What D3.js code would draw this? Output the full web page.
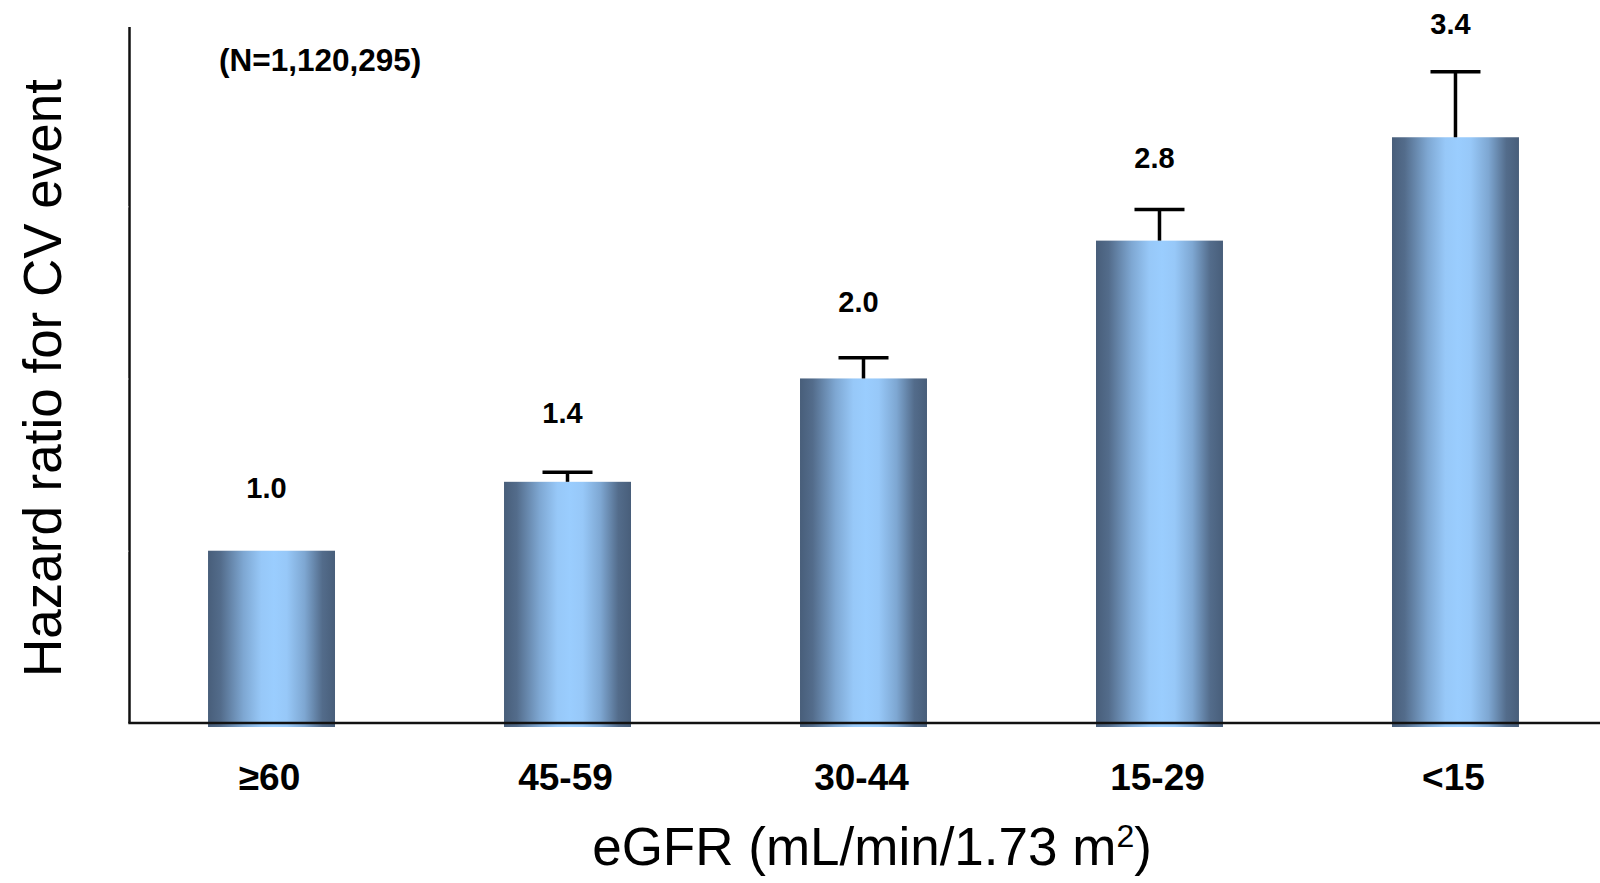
<!DOCTYPE html>
<html>
<head>
<meta charset="utf-8">
<script src="https://cdn.jsdelivr.net/npm/d3@7/dist/d3.min.js"></script>
<style>
  html, body { margin: 0; padding: 0; background: #fff; }
  svg { display: block; }
  text { font-family: "Liberation Sans", Arial, sans-serif; fill: #000; }
</style>
</head>
<body>
<svg id="chart" width="1600" height="883"></svg>
<script>
const categories = ["\u226560", "45-59", "30-44", "15-29", "<15"];
const hazardRatios = [1.0, 1.4, 2.0, 2.8, 3.4];
const upperCI = [1.0, 1.455, 2.12, 2.98, 3.78];
const valueLabels = ["1.0", "1.4", "2.0", "2.8", "3.4"];
const yTicks = [1, 2, 3];
const nLabel = "(N=1,120,295)";
const yTitle = "Hazard ratio for CV event";

const data = categories.map((c, i) => ({ cat: c, v: hazardRatios[i], up: upperCI[i], lab: valueLabels[i], i }));

const svg = d3.select("#chart");

const x = d3.scaleBand().domain(categories).range([129, 1598]).paddingInner(0.571).paddingOuter(0.267);
const y = d3.scaleLinear().domain([0, 4.04]).range([723, 27]);

// gradient
const defs = svg.append("defs");
const grad = defs.append("linearGradient").attr("id", "barGrad").attr("x1", "0%").attr("x2", "100%").attr("y1", "0%").attr("y2", "0%");
[[0, "#485e7a"], [0.1, "#536c8b"], [0.28, "#7ea7d2"], [0.42, "#97c8f8"], [0.52, "#9acdfe"], [0.62, "#97c8f8"], [0.76, "#7ea7d2"], [0.9, "#536c8b"], [1, "#485e7a"]]
  .forEach(([o, c]) => grad.append("stop").attr("offset", o).attr("stop-color", c));

// bars
svg.append("g").selectAll("rect").data(data).join("rect")
  .attr("x", d => x(d.cat))
  .attr("y", d => y(d.v))
  .attr("width", x.bandwidth())
  .attr("height", d => y(0) - y(d.v) + 4)
  .attr("fill", "url(#barGrad)");

// error bars
const eb = svg.append("g").attr("stroke", "#000").attr("stroke-width", 3.5).attr("fill", "none");
data.filter(d => d.up > d.v).forEach(d => {
  const cx = x(d.cat) + x.bandwidth() / 2;
  eb.append("line").attr("x1", cx).attr("x2", cx).attr("y1", y(d.v)).attr("y2", y(d.up));
  eb.append("line").attr("x1", cx - 25).attr("x2", cx + 25).attr("y1", y(d.up)).attr("y2", y(d.up));
});

// value labels
svg.append("g").selectAll("text").data(data).join("text")
  .attr("x", d => x(d.cat) + x.bandwidth() / 2 - 5)
  .attr("y", d => y(d.up) - (53 - 3.7 * d.i))
  .attr("text-anchor", "middle")
  .attr("font-weight", "bold")
  .attr("font-size", 29)
  .text(d => d.lab);

// y axis
const yAxis = svg.append("g").attr("transform", "translate(129.5,0)")
  .call(d3.axisLeft(y).tickValues(yTicks).tickSize(0).tickFormat(""));
yAxis.select(".domain").attr("stroke", "#111").attr("stroke-width", 2.5).attr("d", `M0,${y(0)}V${y.range()[1]}`);
yAxis.selectAll(".tick line").attr("x2", -1).attr("x1", -1.3).attr("stroke", "#fff").attr("stroke-width", 1.5);

// x axis
const xAxis = svg.append("g").attr("transform", `translate(0,${y(0)})`)
  .call(d3.axisBottom(x).tickSize(0).tickPadding(0));
xAxis.select(".domain").attr("stroke", "#111").attr("stroke-width", 2.5).attr("d", `M128.3,0H1600`);
xAxis.selectAll(".tick text")
  .attr("y", 67).attr("dy", 0).attr("dx", -2)
  .attr("font-size", 37).attr("font-weight", "bold")
  .style("font-family", '"Liberation Sans", Arial, sans-serif').attr("fill", "#000");

// N label
svg.append("text").attr("x", 219).attr("y", 71).attr("font-size", 31.5).attr("font-weight", "bold").text(nLabel);

// axis titles
const xt = svg.append("text").attr("x", 872).attr("y", 865).attr("text-anchor", "middle").attr("font-size", 53);
xt.append("tspan").text("eGFR (mL/min/1.73 m");
xt.append("tspan").attr("font-size", 32).attr("dy", -18).text("2");
xt.append("tspan").attr("dy", 18).text(")");

svg.append("text").attr("transform", `translate(61,${378}) rotate(-90)`)
  .attr("text-anchor", "middle").attr("font-size", 53).text(yTitle);
</script>
</body>
</html>
